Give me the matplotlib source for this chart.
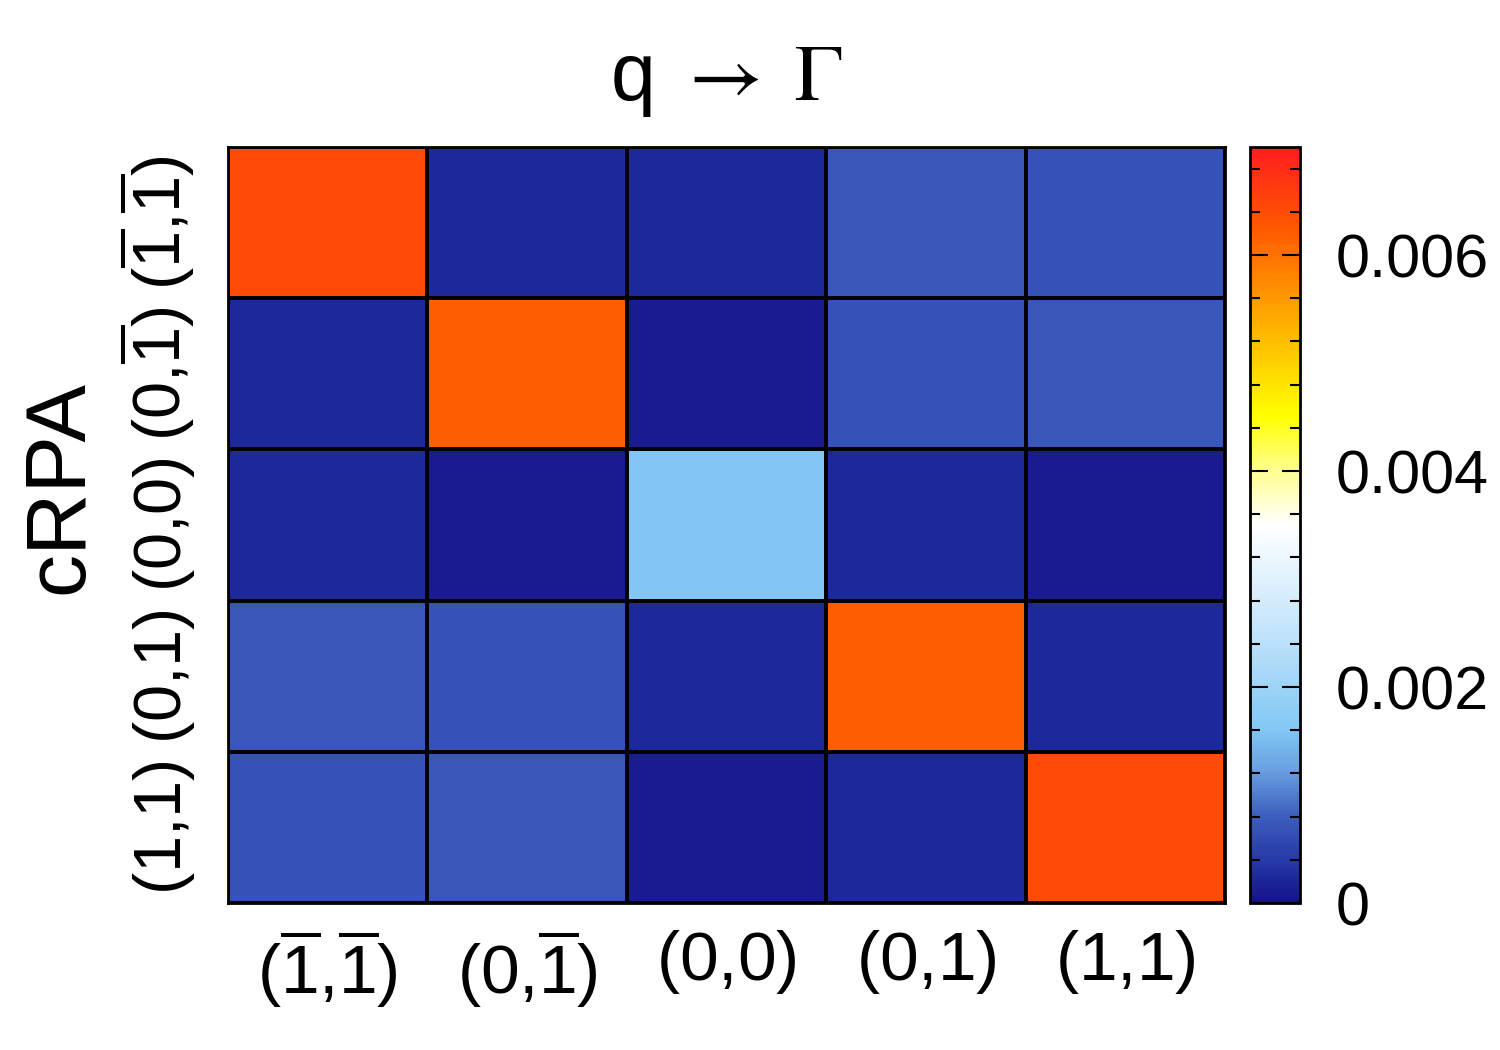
import numpy as np
import matplotlib
matplotlib.use('Agg')
import matplotlib.pyplot as plt
from matplotlib.colors import LinearSegmentedColormap
from matplotlib.ticker import MultipleLocator

plt.rcParams['font.family'] = ['Liberation Sans', 'DejaVu Sans']
plt.rcParams['mathtext.fontset'] = 'custom'
plt.rcParams['mathtext.rm'] = 'Liberation Sans'
plt.rcParams['mathtext.it'] = 'Liberation Sans'

# labels (same order for rows top->bottom and columns left->right)
labels = [r'$(\overline{1}{,}\overline{1})$', r'$(0{,}\overline{1})$', r'$(0{,}0)$',
          r'$(0{,}1)$', r'$(1{,}1)$']

# matrix values, row 0 = top row
row0 = [0.0064, 0.00022, 0.00022, 0.00072, 0.00068]
row1 = [0.00022, 0.0062, 0.00010, 0.00068, 0.00072]
row2 = [0.00022, 0.00010, 0.0016, 0.00022, 0.00010]
row3 = [0.00072, 0.00068, 0.00022, 0.0062, 0.00022]
row4 = [0.00068, 0.00072, 0.00010, 0.00022, 0.0064]
vmin, vmax = 0.0, 0.007

# colormap anchors: (fraction, colour)
cmap_pts = [
    (0.000, (20, 20, 135)),
    (0.060, (40, 60, 170)),
    (0.115, (62, 95, 190)),
    (0.175, (105, 160, 225)),
    (0.230, (130, 200, 245)),
    (0.360, (195, 228, 250)),
    (0.500, (255, 255, 255)),
    (0.575, (255, 255, 140)),
    (0.645, (255, 255, 0)),
    (0.790, (255, 160, 0)),
    (0.900, (255, 85, 0)),
    (1.000, (255, 30, 30)),
]
cmap = LinearSegmentedColormap.from_list(
    'crpa', [(f, tuple(c / 255 for c in col)) for f, col in cmap_pts], N=256)

data = np.array([row0, row1, row2, row3, row4])

fig = plt.figure(figsize=(15, 10.5), dpi=100)
ax = fig.add_axes([0.152, 0.14, 0.6647, 0.72])
cax = fig.add_axes([0.8333, 0.14, 0.0333, 0.72])

n = len(labels)
mesh = ax.pcolormesh(np.arange(n + 1), np.arange(n + 1), data, cmap=cmap,
                     vmin=vmin, vmax=vmax, edgecolors='black', linewidth=1.5)
ax.set_xlim(0, n)
ax.set_ylim(n, 0)
ax.set_xticks(np.arange(n) + 0.5)
ax.set_yticks(np.arange(n) + 0.5)
ax.set_xticklabels(labels, fontsize=50)
ax.set_yticklabels(labels, fontsize=48, rotation=90, va='center')
ax.tick_params(length=0, pad=18)
ax.tick_params(axis='y', pad=22)
for s in ax.spines.values():
    s.set_linewidth(2)

ax.set_title(r'q $\rightarrow\ \Gamma$', fontsize=58, pad=34, math_fontfamily='stix')
ax.set_ylabel('cRPA', fontsize=62)
ax.yaxis.set_label_coords(-0.128, 0.55)

cb = fig.colorbar(mesh, cax=cax)
cb.outline.set_linewidth(2)
cb.set_ticks([0, 0.002, 0.004, 0.006])
cb.set_ticklabels(['0', '0.002', '0.004', '0.006'])
cax.yaxis.set_minor_locator(MultipleLocator(0.0004))
cax.tick_params(which='both', direction='in', left=True, right=True, width=1.5)
cax.tick_params(which='major', length=13, labelsize=44, pad=26)
cax.tick_params(which='minor', length=7)

fig.savefig('out.png', dpi=100)
